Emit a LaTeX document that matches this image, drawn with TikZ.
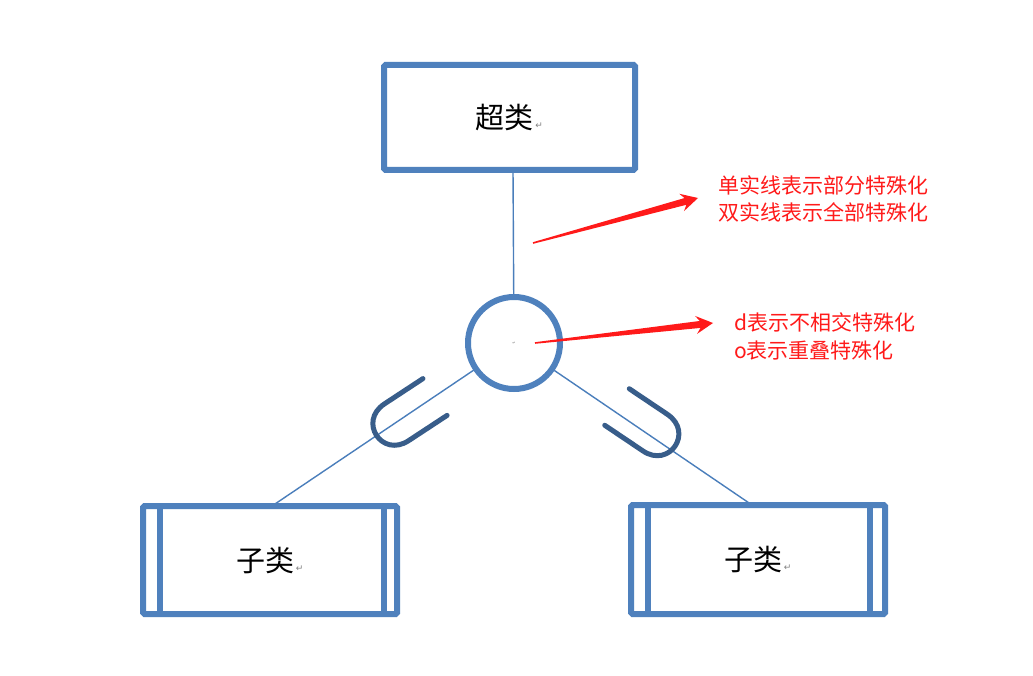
\documentclass[tikz,border=0pt]{standalone}
\usepackage{fontspec}
\usetikzlibrary{calc}
\newfontfamily\cjk{Noto Sans CJK SC}
\newfontfamily\symfont{DejaVu Sans}
\definecolor{boxblue}{HTML}{4F81BD}
\definecolor{ublue}{HTML}{385D8A}
\definecolor{linkblue}{HTML}{4A7EBB}
\definecolor{notered}{HTML}{FF1A1A}
% small paragraph mark after a label
\newcommand\retmark{{\symfont\fontsize{9}{9}\selectfont\color{gray}\,↵}}
% tapered red pointer from #1 (thin tail) to #2 (tip)
\newcommand\taperarrow[2]{%
  \fill[notered] ($(#1)!0.8pt!90:(#2)$)
    -- ($(#2)!13pt!(#1)!3.5pt!-90:(#1)$)
    -- ($(#2)!17pt!(#1)!9pt!-90:(#1)$)
    -- (#2)
    -- ($(#2)!17pt!(#1)!9pt!90:(#1)$)
    -- ($(#2)!13pt!(#1)!3.5pt!90:(#1)$)
    -- ($(#1)!0.8pt!-90:(#2)$) -- cycle;}
\begin{document}
\begin{tikzpicture}[x=1pt,y=-1pt,
  classbox/.style={draw=boxblue, fill=white, line width=6pt, rounded corners=1.5pt,
    minimum width=251pt, minimum height=105pt, outer sep=0pt, inner sep=0pt,
    font=\cjk\fontsize{29}{34}\selectfont},
  specnode/.style={circle, draw=boxblue, fill=white, line width=6pt, minimum size=92pt,
    outer sep=0pt, inner sep=0pt},
  link/.style={draw=linkblue, line width=1.4pt},
  subsetmark/.style={draw=ublue, line width=5pt, line cap=round},
  note/.style={text=notered, font=\cjk\fontsize{21}{28}\selectfont, align=left,
    inner sep=0pt, anchor=west}]
\fill[white] (0,0) rectangle (1033,676);
\useasboundingbox (0,0) rectangle (1033,676);

% connectors first, boxes on top
\coordinate (cc) at (514,343);
\draw[link] (cc) -- (513,170);
\draw[link] (cc) -- (272,506);
\draw[link] (cc) -- (752,505);

% superclass, specialisation circle, subclasses
\node[classbox] (super) at (509.5,117.5) {超类\retmark};
\node[specnode] (C) at (cc) {\symfont\fontsize{4}{4}\selectfont\color{gray}↵};
\node[classbox, minimum width=254pt, minimum height=108pt] (L) at (270,560) {子类\retmark};
\node[classbox, minimum width=254pt, minimum height=109pt] (R) at (758,559.5) {子类\retmark};

% inner walls of the double-lined subclass boxes
\draw[boxblue, line width=6pt] ($(L.north west)+(17,0)$) -- ($(L.south west)+(17,0)$);
\draw[boxblue, line width=6pt] ($(L.north east)+(-13.5,0)$) -- ($(L.south east)+(-13.5,0)$);
\draw[boxblue, line width=6pt] ($(R.north west)+(17,0)$) -- ($(R.south west)+(17,0)$);
\draw[boxblue, line width=6pt] ($(R.north east)+(-15.5,0)$) -- ($(R.south east)+(-15.5,0)$);

% subset marks across the two lower links
\begin{scope}[shift={(435,397)}, rotate=213.3]
  \draw[subsetmark] (0,-22) -- (46,-22) .. controls (78,-22) and (78,22) .. (46,22) -- (0,22);
\end{scope}
\begin{scope}[shift={(617,407)}, rotate=-33.9]
  \draw[subsetmark] (0,-22) -- (46,-22) .. controls (78,-22) and (78,22) .. (46,22) -- (0,22);
\end{scope}

% notes with their pointers
\node[note] (n1) at (718,199) {单实线表示部分特殊化\\双实线表示全部特殊化};
\node[note] (n2) at (734,336) {d表示不相交特殊化\\o表示重叠特殊化};
\coordinate (a1t) at (533,243);
\coordinate (a1h) at ([xshift=-20pt,yshift=1pt]n1.west);
\coordinate (a2t) at (535,343);
\coordinate (a2h) at ([xshift=-21pt,yshift=13pt]n2.west);
\taperarrow{a1t}{a1h}
\taperarrow{a2t}{a2h}
\end{tikzpicture}
\end{document}
